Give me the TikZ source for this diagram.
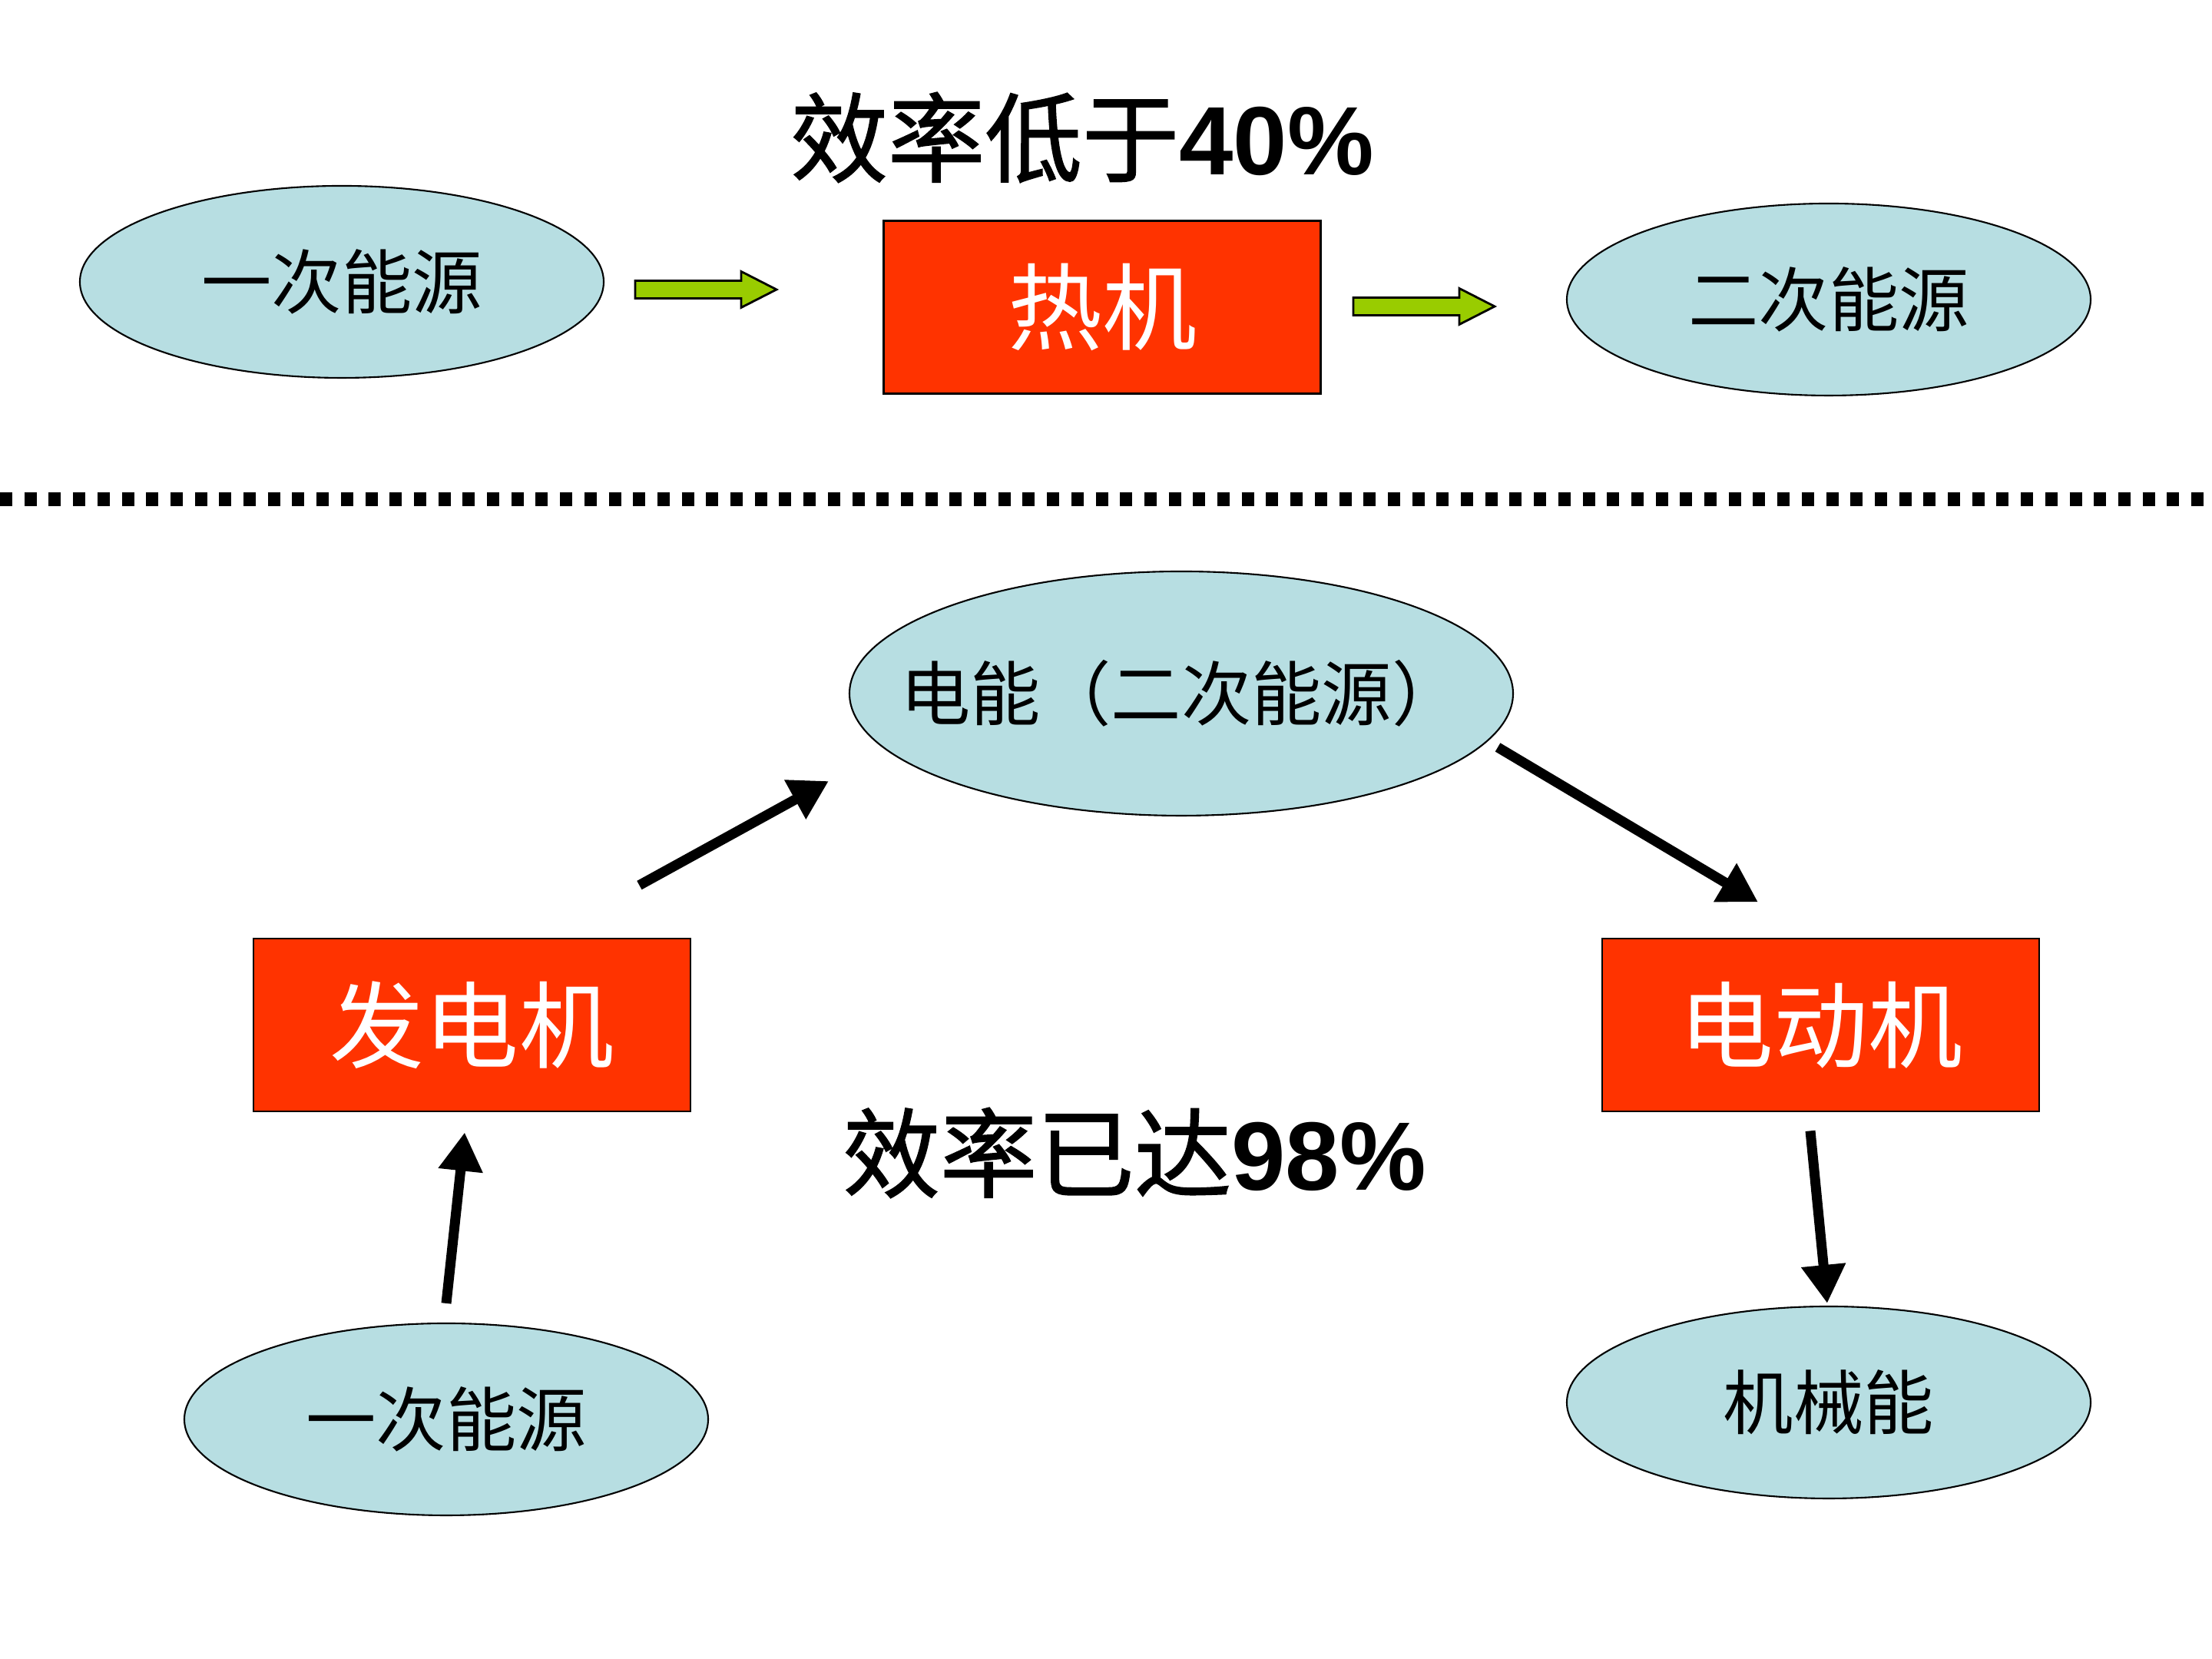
\documentclass[tikz,border=0pt]{standalone}
\usepackage{fontspec}
\setmainfont{Liberation Sans}
\newfontfamily\cjk{Noto Sans CJK SC}
\newfontfamily\cjkt[FakeBold=1.2]{Noto Sans CJK SC}
\usepackage{tikz}
\usetikzlibrary{shapes}
\usetikzlibrary{arrows.meta}
\definecolor{nodeblue}{RGB}{183,222,226}
\definecolor{engred}{RGB}{255,51,0}
\definecolor{arrowgreen}{RGB}{153,204,0}
\tikzset{
	energy node/.style={ellipse,draw,fill=nodeblue,line width=0.6pt,inner sep=-0.7cm,font=\cjk\fontsize{26}{30}\selectfont},
	machine node/.style={rectangle,draw,fill=engred,text=white,line width=0.8pt,minimum width=5.69cm,minimum height=2.25cm,font=\cjk\fontsize{35}{40}\selectfont},
	flow arrow/.pic={\draw [fill=arrowgreen,line width=0.8pt] (-0.92,-0.115) -- (0.46,-0.115) -- (0.46,-0.235) -- (0.92,0) -- (0.46,0.235) -- (0.46,0.115) -- (-0.92,0.115) -- cycle;},
	title node/.style={inner sep=0pt,font=\fontsize{36}{40}\selectfont\bfseries}
}

\begin{document}
\begin{tikzpicture}[big arrow/.style={line width=0.13cm,-{Triangle[length=0.5cm,width=0.55cm]}}]
    \useasboundingbox (0,0) rectangle (28.8,21.6);
    % upper half: heat engine
    \node [title node] (eff40) at (14.09,19.81) {{\cjkt\mdseries 效率低于}40\%};
    \node [energy node,minimum width=6.82cm,minimum height=2.5cm] (prim1) at (4.45,17.93) {一次能源};
    \pic (flow1) at (9.19,17.83) {flow arrow};
    \node [machine node] (heat) at (14.35,17.6) {热机};
    \pic (flow2) at (18.54,17.61) {flow arrow};
    \node [energy node,minimum width=6.82cm,minimum height=2.5cm] (sec1) at (23.81,17.7) {二次能源};
    \draw [line width=0.18cm,dash pattern=on 0.16cm off 0.157cm] (0,15.1) -- (28.8,15.1);
    % lower half: generator and motor
    \node [energy node,minimum width=8.64cm,minimum height=3.18cm] (elec) at (15.38,12.57) {电能（二次能源）};
    \node [machine node] (gen) at (6.145,8.255) {发电机};
    \node [machine node] (motor) at (23.705,8.255) {电动机};
    \node [title node] (eff98) at (14.77,6.59) {{\cjkt\mdseries 效率已达}98\%};
    \node [energy node,minimum width=6.82cm,minimum height=2.5cm] (prim2) at (5.81,3.12) {一次能源};
    \node [energy node,minimum width=6.82cm,minimum height=2.5cm] (mech) at (23.81,3.34) {机械能};
    \draw [big arrow] ([shift={(0,0.25)}]prim2.north) -- ([shift={(-0.095,-0.26)}]gen.south);
    \draw [big arrow] ([shift={(-0.68,0.68)}]gen.north east) -- ([shift={(-0.26,-1.14)}]elec.west);
    \draw [big arrow] ([shift={(-0.21,-0.7)}]elec.east) -- ([shift={(-0.815,0.46)}]motor.north);
    \draw [big arrow] ([shift={(-0.135,-0.24)}]motor.south) -- ([shift={(-0.02,0.03)}]mech.north);
\end{tikzpicture}
\end{document}
